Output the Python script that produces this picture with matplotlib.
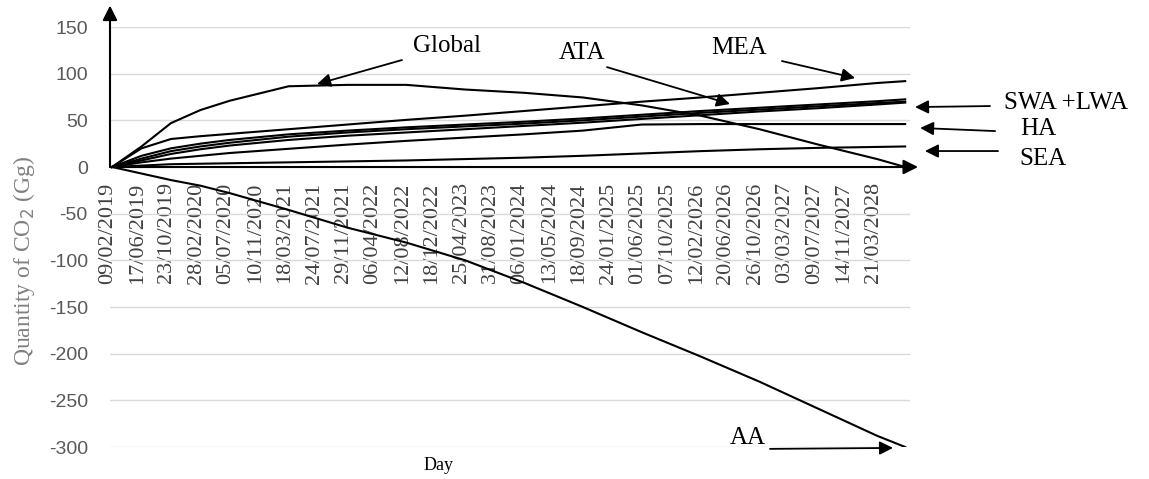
import matplotlib
matplotlib.use("Agg")
import matplotlib.pyplot as plt
from matplotlib.transforms import ScaledTranslation

plt.rcParams['font.family'] = 'Liberation Serif'

# days since 09/02/2019
days = [0, 128, 256, 384, 512, 768, 1024, 1280, 1536, 1792, 2048, 2304, 2560, 2816, 3072, 3328, 3450]

global_ = [0, 22, 47, 61, 71, 86.5, 88, 88, 83, 79.5, 74.5, 66, 55, 40.5, 24, 8.5, 0]
mea = [0, 20, 30, 33, 35.5, 40.5, 45.5, 50.5, 55, 60, 65, 70, 74.5, 79.5, 84.5, 90, 92]
ata = [0, 12, 20, 25, 29, 35, 39, 42.5, 45.5, 48.5, 52, 56, 60, 63.5, 67, 70.5, 72.5]
swa = [0, 9, 17, 22, 26, 32.5, 37, 40.5, 43.5, 46.5, 50, 54, 58, 61.5, 65, 68.5, 70]
lwa = [0, 7, 14, 19, 23, 29, 33.5, 37, 40.5, 44, 47.5, 51.5, 55.5, 59.5, 63, 67, 69]
ha = [0, 5, 9, 12, 15, 19.5, 24, 28, 31.5, 35, 39, 45.5, 46, 46, 46, 46, 46]
sea = [0, 1.5, 3, 3.5, 4, 5, 6, 7, 8.5, 10, 12, 14.5, 17, 19, 20.5, 21.5, 22]
aa = [0, -7, -14, -20, -28, -46, -65, -81, -100, -124, -150, -177, -203, -230, -259, -288, -300]

tick_days = [128 * i for i in range(27)]
tick_labels = ['09/02/2019', '17/06/2019', '23/10/2019', '28/02/2020', '05/07/2020',
               '10/11/2020', '18/03/2021', '24/07/2021', '29/11/2021', '06/04/2022',
               '12/08/2022', '18/12/2022', '25/04/2023', '31/08/2023', '06/01/2024',
               '13/05/2024', '18/09/2024', '24/01/2025', '01/06/2025', '07/10/2025',
               '12/02/2026', '20/06/2026', '26/10/2026', '03/03/2027', '09/07/2027',
               '14/11/2027', '21/03/2028']
y_ticks = list(range(-300, 151, 50))

fig = plt.figure(figsize=(11.49, 4.79), dpi=100)
ax = fig.add_axes([110 / 1149, 32 / 479, 800 / 1149, 420 / 479])

for s in [global_, mea, ata, swa, lwa, ha, sea, aa]:
    ax.plot(days, s, color='black', lw=1.5, solid_joinstyle='miter')

ax.set_xlim(-9, 3471)
ax.set_ylim(-300, 150)
ax.set_yticks(y_ticks)
ax.set_yticklabels([str(v) for v in y_ticks], fontfamily='Liberation Sans',
                   fontsize=14, color='#595959')
ax.grid(axis='y', color='#d9d9d9', lw=1)
ax.set_axisbelow(True)
for sp in ['top', 'right', 'left']:
    ax.spines[sp].set_visible(False)
ax.spines['bottom'].set_position(('data', 0))
ax.spines['bottom'].set_visible(False)
ax.tick_params(axis='y', length=0, pad=16)
ax.tick_params(axis='x', length=0, pad=11)
ax.set_xticks(tick_days)
ax.set_xticklabels(tick_labels, rotation=90, fontsize=16, color='#404040')
shift = ScaledTranslation(-4 / 100, 0, fig.dpi_scale_trans)
for lab in ax.get_xticklabels():
    lab.set_transform(lab.get_transform() + shift)

# axis arrows
arr = dict(arrowstyle='-|>', color='black', lw=1.5, mutation_scale=22, shrinkA=0, shrinkB=0)
ax.annotate('', xy=(3506, 0), xytext=(-9, 0), arrowprops=arr, annotation_clip=False)
ax.annotate('', xy=(-9, 173), xytext=(-9, 0), arrowprops=arr, annotation_clip=False)

# series labels
lab_arr = dict(arrowstyle='-|>', color='black', lw=1.3, mutation_scale=20, shrinkA=0, shrinkB=0)
notes = [
    ('Global', (1457, 129.6), (1261, 114.6), (892, 88.9)),
    ('ATA', (2044, 122), (2153, 107), (2688, 67.5)),
    ('MEA', (2727, 127.4), (2914, 113.5), (3232, 95.3)),
    ('SWA +LWA', (4150, 68.5), (3819, 65.3), (3493, 64.2)),
    ('HA', (4028, 40.7), (3841, 38.5), (3515, 41.8)),
    ('SEA', (4050, 8.6), (3854, 17.1), (3536, 17.1)),
    ('AA', (2766, -290), (2862, -302), (3397, -301)),
]
for txt, tpos, start, tip in notes:
    ax.text(tpos[0], tpos[1], txt, fontsize=18, ha='center', va='center', clip_on=False)
    ax.annotate('', xy=tip, xytext=start, arrowprops=lab_arr, annotation_clip=False)

fig.text(24 / 1149, 1 - 261 / 479, 'Quantity of CO$_2$ (Gg)', rotation=90,
         ha='center', va='center', fontsize=17, color='#808080')
fig.text(439 / 1149, 1 - 465 / 479, 'Day', ha='center', va='center', fontsize=13)

fig.savefig('out.png', dpi=100)
